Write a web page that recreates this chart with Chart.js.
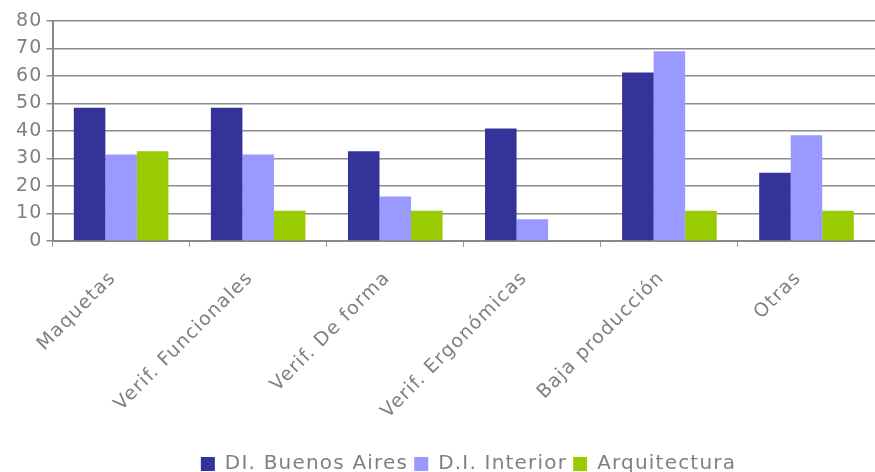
<!DOCTYPE html>
<html>
<head>
<meta charset="utf-8">
<script src="https://cdn.jsdelivr.net/npm/chart.js@4/dist/chart.umd.min.js"></script>
<style>
	html, body { margin: 0; padding: 0; background: #fff; }
	#wrap { width: 875px; height: 472px; }
</style>
</head>
<body>
<div id="wrap"><canvas id="uses"></canvas></div>
<script>
// categorías y series
const categories = [ 'Maquetas', 'Verif. Funcionales', 'Verif. De forma', 'Verif. Ergonómicas', 'Baja producción', 'Otras' ];
const buenosAires = [ 48.5, 48.5, 32.6, 40.9, 61.3, 24.8 ];
const interior = [ 31.5, 31.5, 16.2, 7.9, 69.0, 38.5 ];
const arquitectura = [ 32.6, 11.0, 11.0, 0, 11.0, 11.0 ];
const yTicks = [ 0, 10, 20, 30, 40, 50, 60, 70, 80 ];

const gray = '#808080';
const axisFont = { family: 'DejaVu Sans', size: 19 };
const legendFont = { family: 'DejaVu Sans', size: 20 };

// espaciado entre letras (el original es muy abierto)
const spacing = {
	id: 'spacing',
	beforeUpdate: function ( chart ) { chart.ctx.letterSpacing = '1.2px'; },
	beforeDraw: function ( chart ) { chart.ctx.letterSpacing = '1.2px'; },
	// la leyenda del original está algo corrida a la derecha y abajo
	afterLayout: function ( chart ) {
		const lg = chart.legend;
		lg.left += 25;
		lg.right += 25;
		lg.top += 12;
		lg.bottom += 12;
	}
};

const ctx = document.getElementById( 'uses' ).getContext( '2d' );
new Chart( ctx, {
	type: 'bar',
	data: {
		labels: categories,
		datasets: [
			{ label: 'DI. Buenos Aires', data: buenosAires, backgroundColor: '#333399' },
			{ label: 'D.I. Interior', data: interior, backgroundColor: '#9999ff' },
			{ label: 'Arquitectura', data: arquitectura, backgroundColor: '#99cc00' }
		]
	},
	plugins: [ spacing ],
	options: {
		responsive: true,
		maintainAspectRatio: false,
		animation: false,
		layout: { padding: { top: 21, right: 0, left: 12, bottom: 0 } },
		datasets: { bar: { categoryPercentage: 0.69, barPercentage: 1 } },
		plugins: {
			tooltip: { enabled: false },
			legend: {
				position: 'bottom',
				labels: { color: gray, font: legendFont, boxWidth: 14, boxHeight: 14, padding: 6 }
			}
		},
		scales: {
			x: {
				afterFit: function ( scale ) { scale.height = 195; },
				grid: { offset: true, drawOnChartArea: false, color: '#999', tickLength: 6 },
				border: { color: '#888', width: 2 },
				ticks: { color: gray, font: axisFont, maxRotation: 45, minRotation: 45, padding: 20, labelOffset: -8 }
			},
			y: {
				min: 0,
				max: 80,
				afterBuildTicks: function ( axis ) {
					axis.ticks = yTicks.map( function ( v ) { return { value: v }; } );
				},
				grid: { color: '#8c8c8c', lineWidth: 1.5, tickLength: 6 },
				border: { color: '#888', width: 2 },
				ticks: { color: gray, font: axisFont, padding: 4 }
			}
		}
	}
} );
</script>
</body>
</html>
